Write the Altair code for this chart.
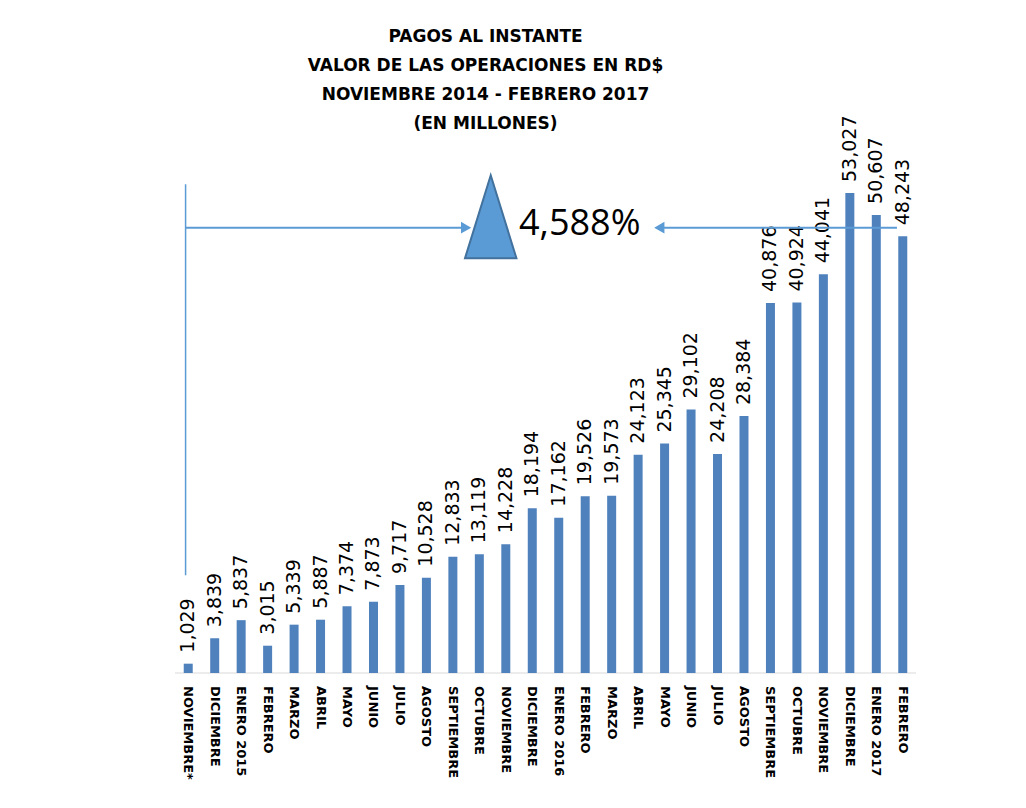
import altair as alt
import pandas as pd

# ---- data ----
months = [
    "NOVIEMBRE*", "DICIEMBRE", "ENERO 2015", "FEBRERO", "MARZO", "ABRIL", "MAYO",
    "JUNIO", "JULIO", "AGOSTO", "SEPTIEMBRE", "OCTUBRE", "NOVIEMBRE", "DICIEMBRE",
    "ENERO 2016", "FEBRERO", "MARZO", "ABRIL", "MAYO", "JUNIO", "JULIO", "AGOSTO",
    "SEPTIEMBRE", "OCTUBRE", "NOVIEMBRE", "DICIEMBRE", "ENERO 2017", "FEBRERO",
]
values = [
    1029, 3839, 5837, 3015, 5339, 5887, 7374, 7873, 9717, 10528, 12833, 13119,
    14228, 18194, 17162, 19526, 19573, 24123, 25345, 29102, 24208, 28384, 40876,
    40924, 44041, 53027, 50607, 48243,
]
title_lines = [
    "PAGOS AL INSTANTE",
    "VALOR DE LAS OPERACIONES EN RD$",
    "NOVIEMBRE 2014 - FEBRERO 2017",
    "(EN MILLONES)",
]

# growth annotation: first month vs last month
growth_text = f"{(values[-1] / values[0] - 1) * 100:,.0f}%"

# annotation anchors (x in category units, y in RD$ millions)
Y_MAX = 58000
bracket_x = [0.40]
bracket_y = [10800]
bracket_y2 = [54000]
arrow_y = [49200]
left_arrow_x = [0.40]
left_arrow_x2 = [11.0]
left_head_x = [11.0]
right_arrow_x = [18.3]
right_arrow_x2 = [27.28]
right_head_x = [18.3]
triangle_x = [11.93]
triangle_y = [50400]
pct_x = [13.0]
pct_y = [49600]

BAR = "#4f81bd"
ACCENT = "#5b9bd5"
n = len(months)

df = pd.DataFrame({
    "pos": [i + 0.5 for i in range(n)],
    "mes": months,
    "valor": values,
    "base": [0] * n,
})
axis_df = pd.DataFrame({"x": [0], "x2": [n], "y": [0]})

yscale = alt.Scale(domain=[0, Y_MAX])
xscale = alt.Scale(domain=[0, n], nice=False, zero=False, padding=0)


def X(f):
    return alt.X(f, type="quantitative", scale=xscale, axis=None)


def Y(f):
    return alt.Y(f, type="quantitative", scale=yscale, axis=None)


baseline = alt.Chart(axis_df).mark_rule(color="#d9d9d9", strokeWidth=1).encode(
    x=X("x"), x2="x2", y=Y("y"))
bars = alt.Chart(df).mark_bar(color=BAR, size=9).encode(x=X("pos"), y=Y("valor"))
labels = alt.Chart(df).mark_text(
    angle=270, align="left", baseline="middle", dx=11,
    font="DejaVu Sans", fontSize=19, color="#000",
).encode(x=X("pos"), y=Y("valor"), text=alt.Text("valor:Q", format=","))
month_labels = alt.Chart(df).mark_text(
    angle=90, align="left", baseline="middle", dx=13,
    font="DejaVu Sans", fontWeight="bold", fontSize=13, color="#000",
).encode(x=X("pos"), y=Y("base"), text="mes:N")

vline = alt.Chart(pd.DataFrame({"x": bracket_x, "y": bracket_y, "y2": bracket_y2})).mark_rule(
    color=ACCENT, strokeWidth=1.5).encode(x=X("x"), y=Y("y"), y2="y2")
larrow = alt.Chart(pd.DataFrame({"x": left_arrow_x, "x2": left_arrow_x2, "y": arrow_y})).mark_rule(
    color=ACCENT, strokeWidth=2).encode(x=X("x"), x2="x2", y=Y("y"))
lhead = alt.Chart(pd.DataFrame({"x": left_head_x, "y": arrow_y})).mark_point(
    shape="triangle-right", filled=True, color=ACCENT, opacity=1, size=140).encode(x=X("x"), y=Y("y"))
rarrow = alt.Chart(pd.DataFrame({"x": right_arrow_x, "x2": right_arrow_x2, "y": arrow_y})).mark_rule(
    color=ACCENT, strokeWidth=2).encode(x=X("x"), x2="x2", y=Y("y"))
rhead = alt.Chart(pd.DataFrame({"x": right_head_x, "y": arrow_y})).mark_point(
    shape="triangle-left", filled=True, color=ACCENT, opacity=1, size=140).encode(x=X("x"), y=Y("y"))
tri = alt.Chart(pd.DataFrame({"x": triangle_x, "y": triangle_y})).mark_point(
    shape="M0,-1L0.62,1L-0.62,1Z", filled=True, fill=ACCENT, stroke="#41719c",
    strokeWidth=2, opacity=1, size=6889).encode(x=X("x"), y=Y("y"))
pct = alt.Chart(pd.DataFrame({"x": pct_x, "y": pct_y, "t": [growth_text]})).mark_text(
    align="left", baseline="middle", font="Open Sans", fontSize=36, color="#000").encode(
    x=X("x"), y=Y("y"), text="t:N")

chart = alt.layer(
    baseline, bars, labels, month_labels, vline, larrow, lhead, rarrow, rhead, tri, pct
).properties(
    width=741, height=525,
    autosize=alt.AutoSizeParams(type="none"),
    padding={"left": 167, "top": 140, "right": 102, "bottom": 127},
    title=alt.Title(
        text=title_lines, font="DejaVu Sans", fontSize=17, fontWeight="bold",
        color="#000", lineHeight=29, anchor="middle", frame="group", dx=-60, offset=-17),
).configure_view(stroke=None)

chart.save("out.html", embed_options={"renderer": "svg", "actions": False})
